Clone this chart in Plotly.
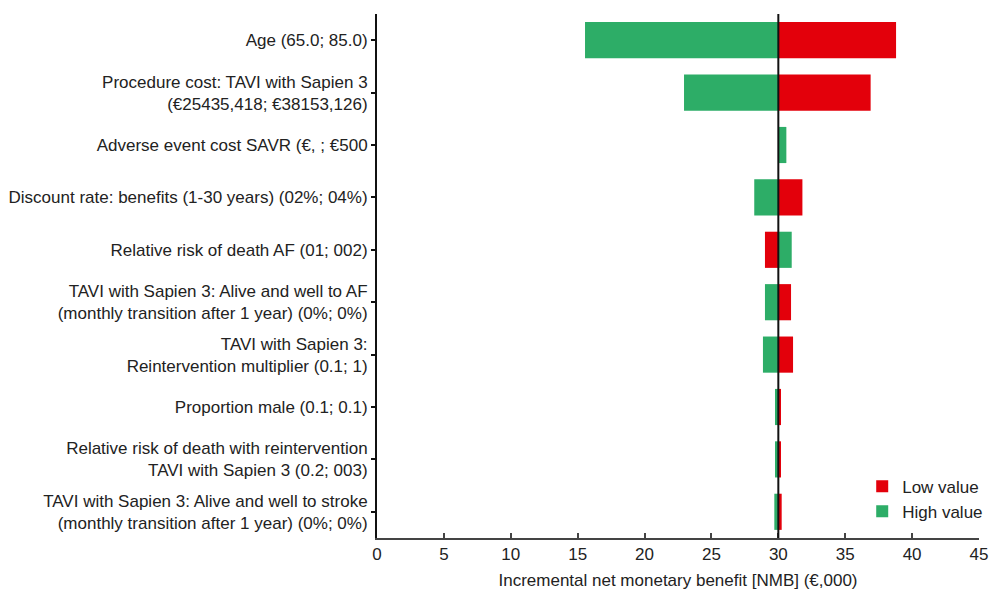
import plotly.graph_objects as go

categories = [
    "Age (65.0; 85.0)",
    "Procedure cost: TAVI with Sapien 3<br>(€25435,418; €38153,126)",
    "Adverse event cost SAVR (€, ; €500",
    "Discount rate: benefits (1-30 years) (02%; 04%)",
    "Relative risk of death AF (01; 002)",
    "TAVI with Sapien 3: Alive and well to AF<br>(monthly transition after 1 year) (0%; 0%)",
    "TAVI with Sapien 3:<br>Reintervention multiplier (0.1; 1)",
    "Proportion male (0.1; 0.1)",
    "Relative risk of death with reintervention<br>TAVI with Sapien 3 (0.2; 003)",
    "TAVI with Sapien 3: Alive and well to stroke<br>(monthly transition after 1 year) (0%; 0%)",
]
base_value = 30.0
low_value = [38.8, 36.9, 30.0, 31.8, 29.0, 30.95, 31.1, 30.2, 30.2, 30.25]
high_value = [15.55, 22.95, 30.6, 28.2, 31.0, 29.0, 28.85, 29.75, 29.75, 29.7]
x_ticks = [0, 5, 10, 15, 20, 25, 30, 35, 40, 45]

RED = "#E3000B"
GREEN = "#2DAD67"
FONT = "Liberation Sans, Arial, sans-serif"
FS = 17

fig = go.Figure()
fig.add_trace(go.Bar(
    y=categories, x=[v - base_value for v in high_value], base=base_value,
    orientation="h", name="High value", marker=dict(color=GREEN, line=dict(width=0)),
    width=0.69,
))
fig.add_trace(go.Bar(
    y=categories, x=[v - base_value for v in low_value], base=base_value,
    orientation="h", name="Low value", marker=dict(color=RED, line=dict(width=0)),
    width=0.69,
))

fig.add_shape(type="line", x0=base_value, x1=base_value, y0=0, y1=1,
              xref="x", yref="paper", line=dict(color="#111111", width=2))

fig.update_layout(
    width=989, height=592,
    margin=dict(l=377, r=10, t=14, b=54, autoexpand=False),
    paper_bgcolor="white", plot_bgcolor="white",
    barmode="overlay",
    font=dict(family=FONT, size=FS, color="#222222"),
    showlegend=True,
    legend=dict(x=0.806, xanchor="left", y=0.016, yanchor="bottom",
                traceorder="reversed", font=dict(size=FS, color="#222222"),
                bgcolor="rgba(0,0,0,0)", itemwidth=30, tracegroupgap=0),
    xaxis=dict(
        range=[0, 45], tickvals=x_ticks, ticktext=[str(t) for t in x_ticks],
        automargin=False,
        showgrid=False, zeroline=False, showline=True, linecolor="#444444", linewidth=2,
        ticks="inside", ticklen=5, tickcolor="#444444", tickwidth=1.5,
        tickfont=dict(size=FS, color="#222222"),
        title=dict(text="Incremental net monetary benefit [NMB] (€,000)",
                   font=dict(size=FS, color="#222222"), standoff=11),
    ),
    yaxis=dict(
        categoryorder="array", categoryarray=categories,
        range=[9.5, -0.5], automargin=False,
        showgrid=False, zeroline=False, showline=True, linecolor="#111111", linewidth=2,
        ticks="outside", ticklen=4, tickcolor="#111111", tickwidth=1.5,
        tickfont=dict(size=FS, color="#222222"),
    ),
)

fig.write_html(
    "out.html",
    config={"displayModeBar": False},
    post_script="document.body.style.margin='0';document.body.style.overflow='hidden';",
)
